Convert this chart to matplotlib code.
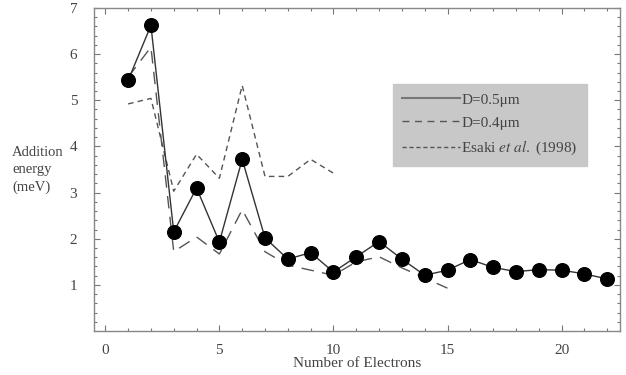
import matplotlib
matplotlib.use("Agg")
import matplotlib.pyplot as plt
from matplotlib.lines import Line2D
from matplotlib.ticker import MultipleLocator

plt.rcParams['font.family'] = ['Liberation Serif', 'DejaVu Serif']
plt.rcParams['mathtext.fontset'] = 'stix'

n_d05 = list(range(1, 23))
e_d05 = [5.43, 6.62, 2.15, 3.10, 1.93, 3.72, 2.02, 1.56, 1.70, 1.28, 1.61, 1.94,
         1.56, 1.21, 1.32, 1.55, 1.38, 1.29, 1.33, 1.32, 1.24, 1.13]

n_d04 = list(range(1, 16))
e_d04 = [5.50, 6.15, 1.72, 2.04, 1.67, 2.63, 1.72, 1.43, 1.32, 1.21, 1.50, 1.61,
         1.37, 1.15, 0.93]

n_esaki = list(range(1, 11))
e_esaki = [4.92, 5.04, 3.03, 3.83, 3.31, 5.32, 3.35, 3.35, 3.72, 3.42]

labels = ["D=0.5\u03bcm", "D=0.4\u03bcm", "Esaki $\\it{et\\ al.}$ (1998)"]

fig = plt.figure(figsize=(6.26, 3.75), dpi=100)
ax = fig.add_axes([0.150, 0.117, 0.840, 0.862])

ax.plot(n_esaki, e_esaki, color='#555555', lw=1.0, ls=(0, (4, 3)))
ax.plot(n_d04, e_d04, color='#555555', lw=1.0, ls=(0, (9, 6)))
ax.plot(n_d05, e_d05, color='#333333', lw=1.0, marker='o', ms=9.8,
        mfc='black', mec='black')

ax.set_xlim(-0.5, 22.55)
ax.set_ylim(0, 7)
ax.xaxis.set_major_locator(MultipleLocator(5))
ax.xaxis.set_minor_locator(MultipleLocator(1))
ax.yaxis.set_major_locator(MultipleLocator(1))
ax.yaxis.set_minor_locator(MultipleLocator(0.2))
ax.set_yticks([1, 2, 3, 4, 5, 6, 7])
ax.tick_params(which='both', direction='in', top=True, right=True,
               colors='#777777', labelcolor='#444444', labelsize=11, width=0.8)
ax.tick_params(which='major', length=4)
ax.tick_params(axis='x', which='major', pad=9)
ax.tick_params(axis='y', which='major', pad=12)
ax.tick_params(which='minor', length=2)
for s in ax.spines.values():
    s.set_color('#888888')
    s.set_linewidth(1.0)

ax.set_xlabel("Number of Electrons", fontsize=11, color='#444444', labelpad=0)
fig.text(0.019, 0.547, "Addition\nenergy\n(meV)", fontsize=10.5, color='#444444',
         ha='left', va='center', linespacing=1.45)

handles = [Line2D([], [], color='#777777', lw=1.5),
           Line2D([], [], color='#555555', lw=1.0, ls=(0, (5, 4))),
           Line2D([], [], color='#555555', lw=1.0, ls=(0, (3, 2)))]
leg = ax.legend(handles, labels, loc='upper left', bbox_to_anchor=(0.568, 0.765),
                frameon=True, fancybox=False, fontsize=11, handlelength=3.8,
                handletextpad=0.1, borderpad=0.6, labelspacing=0.6,
                borderaxespad=0)
leg.get_frame().set_facecolor('#c8c8c8')
leg.get_frame().set_edgecolor('#c8c8c8')
leg.get_frame().set_alpha(1)
for t in leg.get_texts():
    t.set_color('#444444')

fig.savefig("out.png", dpi=100)
